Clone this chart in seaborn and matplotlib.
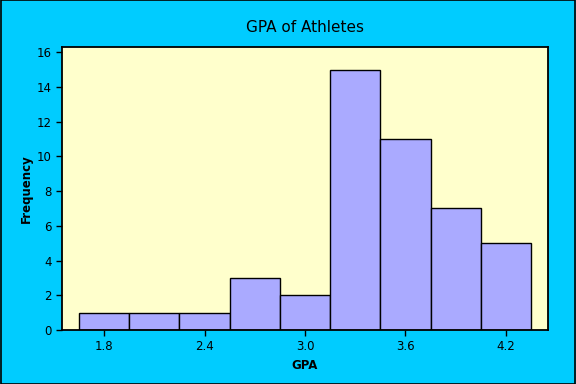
import numpy as np
import pandas as pd
import matplotlib
matplotlib.use("Agg")
import matplotlib.pyplot as plt
import seaborn as sns

# bin midpoints and counts
gpa_mid = [1.8, 2.1, 2.4, 2.7, 3.0, 3.3, 3.6, 3.9, 4.2]
freq = [1, 1, 1, 3, 2, 15, 11, 7, 5]
bin_edges = [1.65, 1.95, 2.25, 2.55, 2.85, 3.15, 3.45, 3.75, 4.05, 4.35]
xticks = [1.8, 2.4, 3.0, 3.6, 4.2]
yticks = [0, 2, 4, 6, 8, 10, 12, 14, 16]

df = pd.DataFrame({"GPA": gpa_mid, "Frequency": freq})

sns.set_style("ticks")
plt.rcParams["font.family"] = ["DejaVu Sans"]
plt.rcParams["text.color"] = "black"
plt.rcParams["axes.labelcolor"] = "black"

fig = plt.figure(figsize=(5.76, 3.84), dpi=100, facecolor="#00CCFF")
ax = fig.add_axes([0.1076, 0.1406, 0.8438, 0.737])
ax.set_facecolor("#FFFFCC")

sns.histplot(data=df, x="GPA", weights="Frequency", bins=bin_edges,
             color="#AAAAFF", edgecolor="black", linewidth=1.0, alpha=1, ax=ax)

ax.set_xlim(1.549, 4.451)
ax.set_ylim(0, 16.3)
ax.set_xticks(xticks)
ax.set_xticklabels([f"{t:.1f}" for t in xticks])
ax.set_yticks(yticks)
ax.tick_params(direction="out", length=4, width=1, labelsize=8.5, colors="black")
for s in ax.spines.values():
    s.set_color("black")
    s.set_linewidth(1.3)

ax.set_xlabel("GPA", fontsize=8.5, fontweight="bold", labelpad=4, color="black")
ax.set_ylabel("Frequency", fontsize=8.5, fontweight="bold", labelpad=3, color="black")
ax.set_title("GPA of Athletes", fontsize=11, pad=11, color="black")

# thin black border round the figure
fig.patches.append(plt.Rectangle((0.0009, 0.0013), 0.9982, 0.9974, transform=fig.transFigure,
                                 fill=False, edgecolor="black", linewidth=1.2))

fig.savefig("out.png", dpi=100, facecolor=fig.get_facecolor())
